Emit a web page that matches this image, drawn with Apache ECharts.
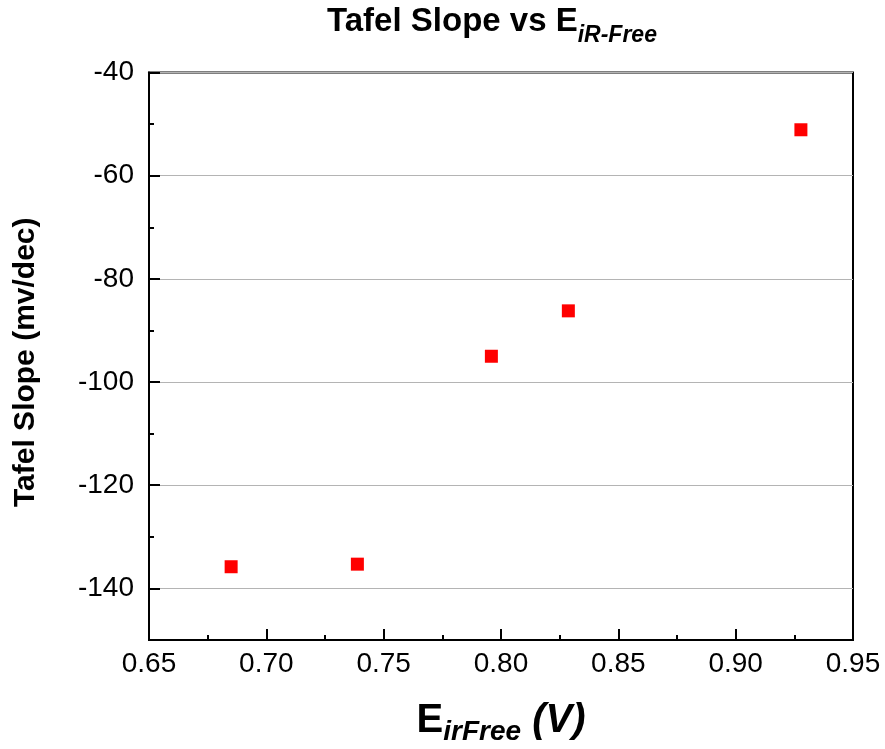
<!DOCTYPE html>
<html>
<head>
<meta charset="utf-8">
<title>Tafel Slope vs E iR-Free</title>
<script src="https://cdn.jsdelivr.net/npm/echarts@6/dist/echarts.min.js"></script>
<style>
  html, body { margin: 0; padding: 0; background: #fff; }
  #chart { width: 885px; height: 749px; }
</style>
</head>
<body>
<div id="chart"></div>
<script>
// Measured points: iR-free potential (V) and Tafel slope (mV/dec)
const potential = [0.685, 0.7388, 0.7959, 0.8287, 0.9278];
const tafelSlope = [-135.8, -135.3, -95.0, -86.2, -51.1];

// Axis ticks
const yMajorTicks = [-140, -120, -100, -80, -60, -40];
const yMinorTicks = [-150, -130, -110, -90, -70, -50];

const FONT = "'Liberation Sans', Arial, Helvetica, sans-serif";

const chart = echarts.init(document.getElementById('chart'), null, { renderer: 'canvas' });

const axisBlack = { color: '#000', width: 2 };

chart.setOption({
  animation: false,
  backgroundColor: '#fff',
  title: {
    text: '{m|Tafel Slope vs E}{s|iR-Free}',
    left: 492,
    top: -3,
    padding: 0,
    textAlign: 'center',
    textStyle: {
      rich: {
        m: { fontFamily: FONT, fontSize: 33, fontWeight: 'bold', color: '#000', lineHeight: 50, verticalAlign: 'middle' },
        s: { fontFamily: FONT, fontSize: 23, fontWeight: 'bold', fontStyle: 'italic', color: '#000', lineHeight: 23, verticalAlign: 'bottom' }
      }
    }
  },
  grid: {
    left: 149, right: 32, top: 72.5, bottom: 109,
    outerBoundsMode: 'none',
    containLabel: false,
    show: true, borderColor: '#000', borderWidth: 2, backgroundColor: 'transparent'
  },
  xAxis: {
    type: 'value',
    min: 0.65, max: 0.95, interval: 0.05,
    name: '{e|E}{s|irFree}{v| (V)}',
    nameLocation: 'middle',
    nameGap: 56,
    nameTextStyle: {
      rich: {
        e: { fontFamily: FONT, fontSize: 40, fontWeight: 'bold', color: '#000', lineHeight: 50, verticalAlign: 'middle' },
        s: { fontFamily: FONT, fontSize: 28, fontWeight: 'bold', fontStyle: 'italic', color: '#000', lineHeight: 28, verticalAlign: 'bottom' },
        v: { fontFamily: FONT, fontSize: 40, fontWeight: 'bold', fontStyle: 'italic', color: '#000', lineHeight: 50, verticalAlign: 'middle' }
      }
    },
    axisLine: { show: true, onZero: false, lineStyle: axisBlack },
    axisTick: { show: true, inside: true, length: 11, lineStyle: axisBlack },
    minorTick: { show: true, splitNumber: 2, length: 5, lineStyle: axisBlack },
    splitLine: { show: false },
    minorSplitLine: { show: false },
    axisLabel: {
      fontFamily: FONT, fontSize: 28, color: '#000', margin: 10,
      formatter: v => v.toFixed(2)
    }
  },
  yAxis: [
    {
      type: 'value',
      position: 'left',
      min: -150, max: -40, interval: 10,
      name: 'Tafel Slope (mv/dec)',
      nameLocation: 'middle',
      nameGap: 108,
      nameTextStyle: { fontFamily: FONT, fontSize: 30, fontWeight: 'bold', color: '#000', padding: [0, 12, 0, 0] },
      axisLine: { show: true, onZero: false, lineStyle: axisBlack },
      axisTick: { show: true, inside: true, length: 11, lineStyle: axisBlack, customValues: yMajorTicks },
      axisLabel: { fontFamily: FONT, fontSize: 28, color: '#000', margin: 15, customValues: yMajorTicks },
      splitLine: { show: true, lineStyle: { color: '#b4b4b4', width: 1 } }
    },
    {
      type: 'value',
      position: 'left',
      min: -150, max: -40, interval: 10,
      axisLine: { show: false },
      axisTick: { show: true, inside: true, length: 5, lineStyle: axisBlack, customValues: yMinorTicks },
      axisLabel: { show: false },
      splitLine: { show: false }
    }
  ],
  series: [{
    type: 'scatter',
    xAxisIndex: 0,
    yAxisIndex: 0,
    symbol: 'rect',
    symbolSize: 13,
    itemStyle: { color: '#ff0000', opacity: 1 },
    data: potential.map((x, i) => [x, tafelSlope[i]])
  }]
});
</script>
</body>
</html>
